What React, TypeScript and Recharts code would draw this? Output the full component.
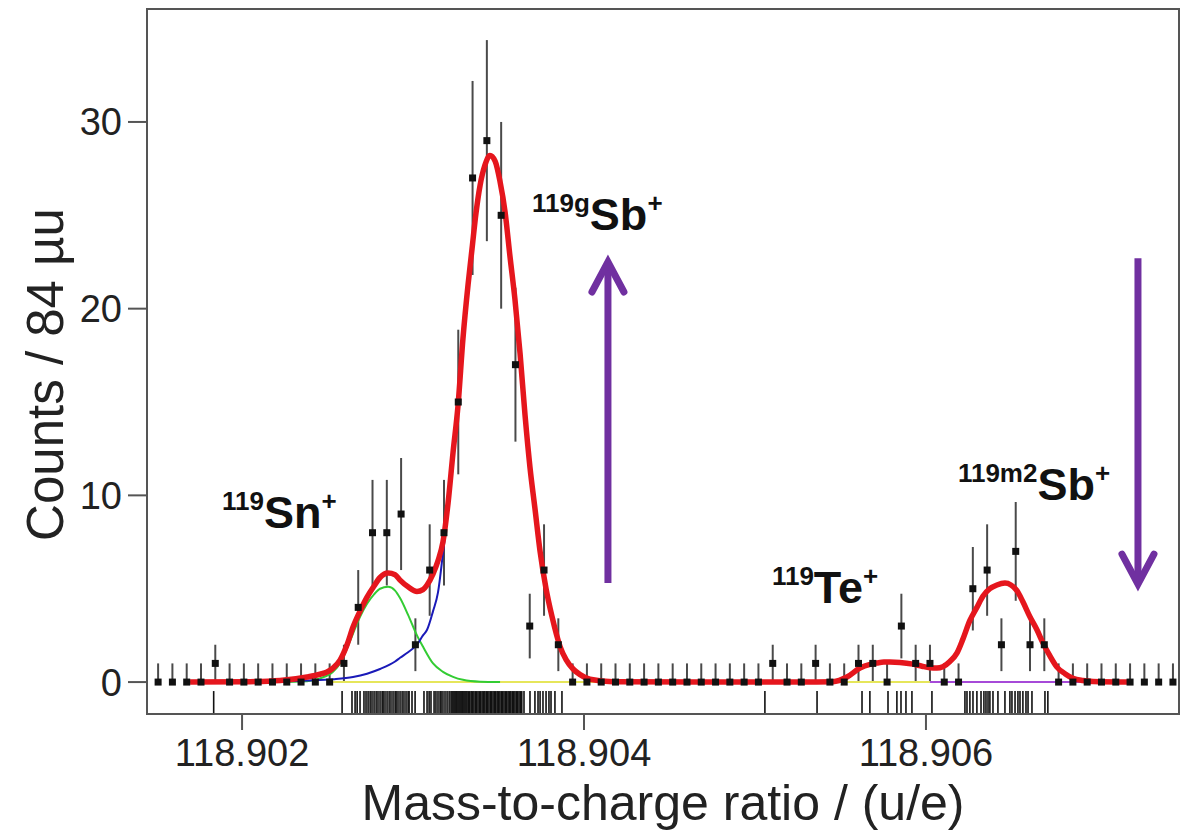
import React from 'react';
import {
  ComposedChart,
  XAxis,
  YAxis,
  Scatter,
  Line,
  ErrorBar,
  ReferenceLine,
  ReferenceDot,
  ReferenceArea,
  Label,
} from 'recharts';

const FONT = '"Liberation Sans", Arial, sans-serif';

// histogram: 84 µu bins
const BIN_START = 118.901509;
const BIN_WIDTH = 0.0000836;

const counts = [
  0, 0, 0, 0, 1, 0, 0, 0, 0, 0, 0, 0,
  0, 1, 4, 8, 8, 9, 2, 6, 8, 15, 27, 29,
  25, 17, 3, 6, 2, 0, 0, 0, 0, 0, 0, 0,
  0, 0, 0, 0, 0, 0, 0, 1, 0, 0, 1, 0,
  0, 1, 1, 0, 3, 1, 1, 0, 0, 5, 6, 2,
  7, 2, 2, 0, 0, 0, 0, 0, 0, 0, 0, 0,
];

// single ion events (rug), µu above 118.9 u
const RUG_BASE = 118.9;
const rugEventsMicro = [
  1834, 2585,
  2643, 2661, 2673, 2690,
  2713, 2725, 2737, 2749, 2760, 2772, 2784, 2795,
  2807, 2819, 2825, 2836, 2848, 2860, 2871, 2883,
  2895, 2901, 2912, 2924, 2936, 2947, 2959, 2971, 2977,
  2994, 3012,
  3064, 3082, 3094, 3105, 3123, 3134,
  3146, 3158, 3164, 3175, 3187, 3199, 3211, 3222,
  3228, 3234, 3240, 3246, 3252, 3257, 3263, 3269, 3275, 3281, 3287, 3292, 3298, 3304, 3310,
  3316, 3324, 3332, 3340, 3348, 3356, 3364, 3372, 3380, 3388, 3396, 3404, 3412, 3420,
  3428, 3436, 3444, 3452, 3460, 3468, 3476, 3484, 3492, 3500, 3508, 3516, 3524, 3532,
  3540, 3548, 3556, 3564, 3572, 3580, 3588, 3596, 3604, 3612, 3620, 3628, 3636,
  3649, 3684, 3713, 3731, 3743, 3760, 3778, 3795, 3807, 3830, 3871,
  5058, 5363, 5626, 5672, 5778, 5830, 5854, 5883, 5918, 6035,
  6228, 6240, 6257, 6275, 6298, 6322, 6339, 6351, 6363, 6374, 6392, 6421, 6462,
  6491, 6503, 6521, 6538, 6550, 6567, 6585, 6597, 6620, 6696, 6713,
];

// fit curves: [mass, counts]
const totalFit = [
  [118.901696, 0], [118.902047, 0.02], [118.902222, 0.08], [118.90238, 0.27],
  [118.902456, 0.42], [118.902497, 0.54], [118.902532, 0.75], [118.902573, 1.18],
  [118.902614, 2.0], [118.902649, 2.95], [118.90269, 3.8], [118.902731, 4.55],
  [118.902772, 5.15], [118.902807, 5.6], [118.902854, 5.84], [118.902895, 5.75],
  [118.902924, 5.46], [118.902971, 5.1], [118.903023, 4.85], [118.903058, 4.95],
  [118.903082, 5.2], [118.903117, 5.8], [118.903146, 6.5], [118.903175, 7.5],
  [118.903205, 9.6], [118.903234, 12.3], [118.903263, 14.8], [118.903292, 18.4],
  [118.903322, 21.3], [118.903345, 23.2], [118.903368, 25.1], [118.903392, 26.6],
  [118.903421, 27.7], [118.90345, 28.2], [118.90348, 27.9], [118.903509, 26.8],
  [118.903538, 25.2], [118.903567, 22.8], [118.903596, 20.5], [118.903626, 17.6],
  [118.903655, 14.3], [118.903684, 11.5], [118.903713, 9.3], [118.903743, 7.0],
  [118.903778, 5.0], [118.903813, 3.5], [118.90386, 1.9], [118.903895, 1.2],
  [118.903936, 0.7], [118.903977, 0.4], [118.904035, 0.15], [118.90417, 0.02],
  [118.904678, 0], [118.905263, 0], [118.905456, 0.02], [118.905538, 0.27],
  [118.905614, 0.75], [118.905673, 0.95], [118.905713, 1.02], [118.905754, 1.07],
  [118.905789, 1.07], [118.905848, 1.05], [118.905924, 0.96], [118.905977, 0.85],
  [118.906023, 0.77], [118.906064, 0.75], [118.906099, 0.82], [118.90614, 1.1],
  [118.906181, 1.55], [118.906216, 2.3], [118.906257, 3.3], [118.906298, 4.0],
  [118.906333, 4.6], [118.906374, 5.0], [118.906415, 5.2], [118.906462, 5.3],
  [118.906497, 5.2], [118.906532, 4.9], [118.906567, 4.3], [118.906608, 3.5],
  [118.906649, 2.8], [118.906684, 2.1], [118.906725, 1.4], [118.906766, 0.8],
  [118.906813, 0.45], [118.90686, 0.2], [118.906918, 0.08], [118.906977, 0.03],
  [118.907193, 0],
];

const snFit = [
  [118.901696, 0], [118.902222, 0.01], [118.90238, 0.05], [118.902456, 0.2],
  [118.902532, 0.55], [118.902573, 1.0], [118.902614, 1.8], [118.902649, 2.6],
  [118.90269, 3.5], [118.902731, 4.2], [118.902772, 4.7], [118.902807, 5.0],
  [118.902854, 5.1], [118.902895, 4.9], [118.902924, 4.5], [118.902971, 3.6],
  [118.903023, 2.5], [118.903058, 1.9], [118.903117, 1.0], [118.903175, 0.55],
  [118.903234, 0.28], [118.903292, 0.12], [118.903392, 0.02], [118.903509, 0],
];

const sbFit = [
  [118.902047, 0], [118.90238, 0.08], [118.902532, 0.15], [118.902649, 0.27],
  [118.902731, 0.45], [118.902807, 0.7], [118.902895, 1.1], [118.902924, 1.3],
  [118.902971, 1.6], [118.903023, 2.0], [118.903058, 2.5], [118.903082, 2.8],
  [118.903117, 3.8], [118.903146, 4.8], [118.903175, 6.9], [118.903205, 9.3],
  [118.903234, 12.0], [118.903263, 14.8], [118.903292, 18.4], [118.903322, 21.3],
  [118.903345, 23.2], [118.903368, 25.1], [118.903392, 26.6], [118.903421, 27.7],
  [118.90345, 28.2], [118.90348, 27.9], [118.903509, 26.8], [118.903538, 25.2],
  [118.903567, 22.8], [118.903596, 20.5], [118.903626, 17.6], [118.903655, 14.3],
  [118.903684, 11.5], [118.903713, 9.3], [118.903743, 7.0], [118.903778, 5.0],
  [118.903813, 3.5], [118.90386, 1.9], [118.903895, 1.2], [118.903936, 0.7],
  [118.903977, 0.4], [118.904035, 0.15], [118.90417, 0.02], [118.904678, 0],
];

const teFit = [[118.902497, 0], [118.906099, 0]];
const otherFit = [[118.906023, 0], [118.907193, 0]];

const ionLabels = [
  { sup: '119', name: 'Sn', x: 118.901883, y: 8.25 },
  { sup: '119g', name: 'Sb', x: 118.903696, y: 24.2 },
  { sup: '119', name: 'Te', x: 118.905099, y: 4.23 },
  { sup: '119m2', name: 'Sb', x: 118.906187, y: 9.75 },
];

// purple arrows: [mass, from, to]
const arrows = [
  [118.90414, 5.3, 22.5],
  [118.90724, 22.7, 5.25],
];

const xTicks = [118.902, 118.904, 118.906];
const yTicks = [0, 10, 20, 30];
const X_DOMAIN = [118.901444, 118.90748];
const Y_DOMAIN = [-1.71, 36.05];
const RUG_Y = -1.07;

const points = counts.map((c, i) => ({
  x: BIN_START + i * BIN_WIDTH,
  y: c,
  err: c === 0 ? [0, 1] : [Math.sqrt(c), Math.sqrt(c)],
}));
const rug = rugEventsMicro.map((u) => ({ x: RUG_BASE + u * 1e-6, y: RUG_Y }));
const toPts = (arr) => arr.map(([x, y]) => ({ x, y }));

const Square = (p) => (
  <rect x={p.cx - 3.5} y={p.cy - 3.5} width={7} height={7} fill="#111" />
);
const RugTick = (p) => (
  <line x1={p.cx} x2={p.cx} y1={p.cy - 11} y2={p.cy + 11} stroke="#111" strokeWidth={1.6} />
);

const Arrow = (p) => {
  const { x1, y1, x2, y2 } = p;
  const dir = y2 < y1 ? 1 : -1;
  return (
    <g>
      <line x1={x1} y1={y1} x2={x2} y2={y2 + dir * 2} stroke="#7030a0" strokeWidth={7} />
      <polyline
        points={`${x2 - 16},${y2 + dir * 30} ${x2},${y2} ${x2 + 16},${y2 + dir * 30}`}
        fill="none"
        stroke="#7030a0"
        strokeWidth={7}
        strokeLinecap="round"
        strokeLinejoin="miter"
      />
    </g>
  );
};

const IonLabel = ({ cx, cy, sup, name }) => (
  <text x={cx} y={cy} fontFamily={FONT} fontWeight="bold" fill="#111">
    <tspan fontSize={26} dy={-18}>{sup}</tspan>
    <tspan fontSize={45} dy={18}>{name}</tspan>
    <tspan fontSize={26} dy={-18}>+</tspan>
  </text>
);

export default function App() {
  return (
    <div style={{ position: 'absolute', left: 0, top: 0, background: '#fff' }}>
      <ComposedChart
        width={1188}
        height={831}
        margin={{ top: 9, right: 9, bottom: 0, left: 47 }}
      >
        <XAxis
          dataKey="x"
          type="number"
          domain={X_DOMAIN}
          allowDataOverflow
          ticks={xTicks}
          tickFormatter={(v) => v.toFixed(3)}
          axisLine={false}
          tickLine={{ stroke: '#555', strokeWidth: 2 }}
          tickSize={16}
          tickMargin={9}
          height={117}
          tick={{ fontSize: 38, fill: '#222', fontFamily: FONT }}
        >
          <Label
            content={({ viewBox }) => (
              <text
                x={viewBox.x + viewBox.width / 2}
                y={viewBox.y + 106}
                textAnchor="middle"
                fontSize={50}
                fontFamily={FONT}
                fill="#222"
              >
                Mass-to-charge ratio / (u/e)
              </text>
            )}
          />
        </XAxis>
        <YAxis
          dataKey="y"
          type="number"
          domain={Y_DOMAIN}
          allowDataOverflow
          ticks={yTicks}
          axisLine={false}
          tickLine={{ stroke: '#555', strokeWidth: 2 }}
          tickSize={19}
          tickMargin={6}
          width={100}
          tick={{ fontSize: 38, fill: '#222', fontFamily: FONT }}
        >
          <Label
            content={({ viewBox }) => {
              const cx = viewBox.x + 16;
              const cy = viewBox.y + viewBox.height / 2 + 13;
              return (
                <text
                  x={cx}
                  y={cy}
                  transform={`rotate(-90, ${cx}, ${cy})`}
                  textAnchor="middle"
                  fontSize={51}
                  fontFamily={FONT}
                  fill="#222"
                >
                  Counts / 84 µu
                </text>
              );
            }}
          />
        </YAxis>

        <ReferenceArea
          x1={X_DOMAIN[0]}
          x2={X_DOMAIN[1]}
          y1={Y_DOMAIN[0]}
          y2={Y_DOMAIN[1]}
          fill="none"
          fillOpacity={0}
          stroke="#555"
          strokeWidth={2}
          ifOverflow="visible"
        />

        <Scatter data={rug} shape={RugTick} isAnimationActive={false} />
        <Scatter data={points} shape={Square} isAnimationActive={false}>
          <ErrorBar dataKey="err" direction="y" width={0} stroke="#4a4a4a" strokeWidth={2} />
        </Scatter>

        <Line data={toPts(teFit)} dataKey="y" type="linear" stroke="#e6e65a" strokeWidth={2} dot={false} isAnimationActive={false} />
        <Line data={toPts(otherFit)} dataKey="y" type="linear" stroke="#a64ad8" strokeWidth={2} dot={false} isAnimationActive={false} />
        <Line data={toPts(snFit)} dataKey="y" type="monotone" stroke="#33cc33" strokeWidth={2} dot={false} isAnimationActive={false} />
        <Line data={toPts(sbFit)} dataKey="y" type="monotone" stroke="#1a1ab8" strokeWidth={2} dot={false} isAnimationActive={false} />
        <Line data={toPts(totalFit)} dataKey="y" type="monotone" stroke="#e5161d" strokeWidth={5.5} dot={false} isAnimationActive={false} />

        {arrows.map(([m, from, to], i) => (
          <ReferenceLine
            key={`arrow-${i}`}
            segment={[{ x: m, y: from }, { x: m, y: to }]}
            shape={Arrow}
            ifOverflow="visible"
          />
        ))}

        {ionLabels.map((l, i) => (
          <ReferenceDot
            key={`ion-${i}`}
            x={l.x}
            y={l.y}
            r={1}
            ifOverflow="visible"
            shape={(p) => <IonLabel cx={p.cx} cy={p.cy} sup={l.sup} name={l.name} />}
          />
        ))}
      </ComposedChart>
    </div>
  );
}
